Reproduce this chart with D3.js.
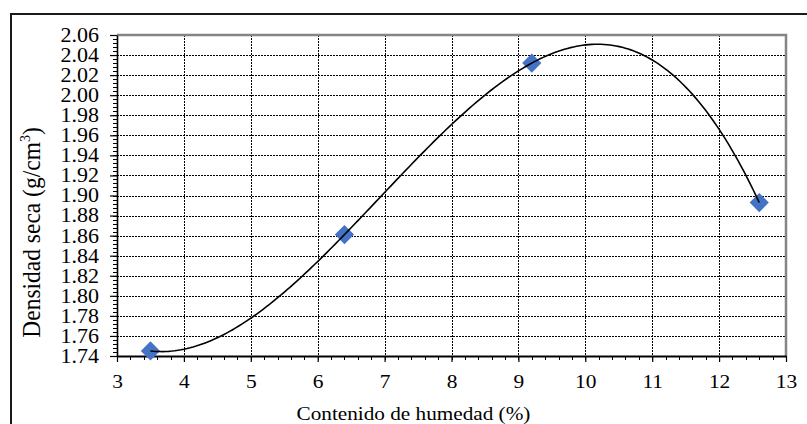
<!DOCTYPE html>
<html>
<head>
<meta charset="utf-8">
<script src="https://cdn.jsdelivr.net/npm/d3@7"></script>
</head>
<body style="margin:0;background:#fff">
<svg id="chart" width="807" height="424" style="display:block"></svg>
<script>
// Proctor test: moisture content vs dry density
const humedad = [3.5, 6.4, 9.2, 12.6];
const densidad = [1.745, 1.861, 2.032, 1.893];
const xTicks = [3, 4, 5, 6, 7, 8, 9, 10, 11, 12, 13];
const yTicks = [1.74, 1.76, 1.78, 1.80, 1.82, 1.84, 1.86, 1.88, 1.90, 1.92, 1.94, 1.96, 1.98, 2.00, 2.02, 2.04, 2.06];
const trendOrder = 3;

const FONT = "'Liberation Serif', 'Times New Roman', 'Tinos'";
const SX = 1.1; // horizontal text stretch
const svg = d3.select("#chart").style("font-family", FONT);
const plot = { left: 117, top: 35, right: 786, bottom: 356 };

const x = d3.scaleLinear().domain([3, 13]).range([plot.left, plot.right]);
const y = d3.scaleLinear().domain([1.74, 2.06]).range([plot.bottom, plot.top]);

// Outer chart frame
svg.append("rect")
  .attr("x", 11).attr("y", 14).attr("width", 805).attr("height", 437)
  .attr("fill", "#fff").attr("stroke", "#1a1a1a").attr("stroke-width", 2);

// Grid lines
const grid = svg.append("g");
grid.selectAll(".hg").data(yTicks.filter(v => v > 1.745 && v < 2.055)).enter()
  .append("line")
  .attr("x1", plot.left).attr("x2", plot.right)
  .attr("y1", d => Math.round(y(d)) + 0.5).attr("y2", d => Math.round(y(d)) + 0.5)
  .attr("stroke", "#000").attr("stroke-width", 1).attr("stroke-dasharray", "2,1");
grid.selectAll(".vg").data(xTicks.filter(v => v > 3 && v < 13)).enter()
  .append("line")
  .attr("y1", plot.top).attr("y2", plot.bottom)
  .attr("x1", d => Math.round(x(d)) + 0.5).attr("x2", d => Math.round(x(d)) + 0.5)
  .attr("stroke", "#000").attr("stroke-width", 1).attr("stroke-dasharray", "2,1");

// Plot frame (top and right)
svg.append("path")
  .attr("d", `M${plot.left},${plot.top}H${plot.right}V${plot.bottom}`)
  .attr("fill", "none").attr("stroke", "#858585").attr("stroke-width", 2.5);

// Minor ticks
const yMinor = d3.range(0, 81).map(i => 1.74 + i * 0.004);
svg.append("g").selectAll("line").data(yMinor).enter().append("line")
  .attr("x1", plot.left - 4).attr("x2", plot.left)
  .attr("y1", d => Math.round(y(d)) + 0.5).attr("y2", d => Math.round(y(d)) + 0.5)
  .attr("stroke", "#000").attr("stroke-width", 1);
const xMinor = d3.range(0, 51).map(i => 3 + i * 0.2);
svg.append("g").selectAll("line").data(xMinor).enter().append("line")
  .attr("y1", plot.bottom).attr("y2", plot.bottom + 4)
  .attr("x1", d => Math.round(x(d)) + 0.5).attr("x2", d => Math.round(x(d)) + 0.5)
  .attr("stroke", "#000").attr("stroke-width", 1);

// Axes
const yAxis = d3.axisLeft(y).tickValues(yTicks).tickFormat(d3.format(".2f")).tickSizeInner(7).tickSizeOuter(0).tickPadding(11);
const gy = svg.append("g").attr("transform", `translate(${plot.left},0)`).call(yAxis);
gy.attr("font-family", null).attr("font-size", null);
gy.select(".domain").attr("stroke", "#000").attr("stroke-width", 1.6);
gy.selectAll(".tick line").attr("stroke", "#000").attr("stroke-width", 1.2);
gy.selectAll(".tick text")
  .attr("font-size", 20).style("font-family", FONT).attr("fill", "#000")
  .attr("x", -18 / SX).attr("transform", `scale(${SX},1)`);

const xAxis = d3.axisBottom(x).tickValues(xTicks).tickFormat(d3.format("d")).tickSizeInner(6).tickSizeOuter(0).tickPadding(12);
const gx = svg.append("g").attr("transform", `translate(0,${plot.bottom})`).call(xAxis);
gx.attr("font-family", null).attr("font-size", null);
gx.select(".domain").attr("stroke", "#000").attr("stroke-width", 2);
gx.selectAll(".tick line").attr("stroke", "#000").attr("stroke-width", 1.2);
gx.selectAll(".tick text")
  .attr("font-size", 19.5).style("font-family", FONT).attr("fill", "#000")
  .attr("transform", `scale(${SX},1)`);

// Axis titles
svg.append("text")
  .attr("transform", `translate(413.5,420) scale(${SX},1)`)
  .attr("text-anchor", "middle")
  .attr("font-size", 19.3).style("font-family", FONT)
  .text("Contenido de humedad (%)");

const yt = svg.append("text")
  .attr("transform", `translate(40,232.5) scale(${SX},1) rotate(-90)`)
  .attr("text-anchor", "middle")
  .attr("font-size", 23.5).style("font-family", FONT);
yt.append("tspan").text("Densidad seca (g/cm");
yt.append("tspan").attr("font-size", 14).attr("dy", -9).text("3");
yt.append("tspan").attr("dy", 9).text(")");

// Data markers
svg.append("g").selectAll("path").data(humedad.map((h, i) => [h, densidad[i]])).enter()
  .append("path")
  .attr("d", d3.symbol().type(d3.symbolSquare).size(185))
  .attr("transform", d => `translate(${x(d[0])},${y(d[1])}) rotate(45)`)
  .attr("fill", "#4472C4");

// Polynomial trend line (least squares, order 3)
function polyFit(xs, ys, order) {
  const n = order + 1;
  const A = Array.from({ length: n }, () => new Array(n + 1).fill(0));
  for (let r = 0; r < n; r++) {
    for (let c = 0; c < n; c++) A[r][c] = d3.sum(xs, v => Math.pow(v, r + c));
    A[r][n] = d3.sum(xs, (v, i) => ys[i] * Math.pow(v, r));
  }
  for (let i = 0; i < n; i++) {
    let p = i;
    for (let k = i + 1; k < n; k++) if (Math.abs(A[k][i]) > Math.abs(A[p][i])) p = k;
    [A[i], A[p]] = [A[p], A[i]];
    for (let k = i + 1; k < n; k++) {
      const f = A[k][i] / A[i][i];
      for (let c = i; c <= n; c++) A[k][c] -= f * A[i][c];
    }
  }
  const coef = new Array(n).fill(0);
  for (let i = n - 1; i >= 0; i--) {
    let s = A[i][n];
    for (let c = i + 1; c < n; c++) s -= A[i][c] * coef[c];
    coef[i] = s / A[i][i];
  }
  return v => coef.reduce((acc, a, k) => acc + a * Math.pow(v, k), 0);
}
const trend = polyFit(humedad, densidad, trendOrder);
const xs = d3.range(0, 201).map(i => d3.min(humedad) + (d3.max(humedad) - d3.min(humedad)) * i / 200);
svg.append("path")
  .datum(xs)
  .attr("d", d3.line().x(d => x(d)).y(d => y(trend(d))))
  .attr("fill", "none").attr("stroke", "#000").attr("stroke-width", 1.6);
</script>
</body>
</html>
